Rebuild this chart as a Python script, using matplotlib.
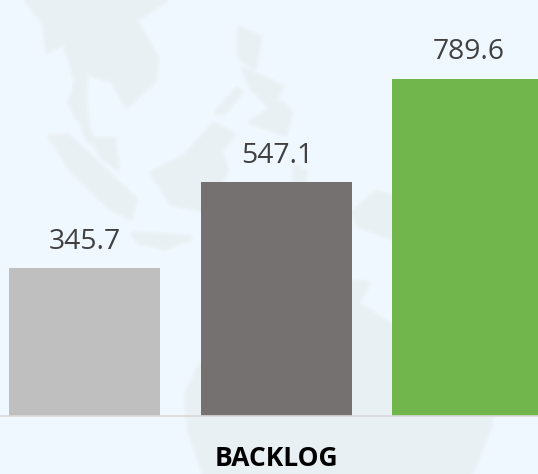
from matplotlib import use as mp_use
mp_use('Agg')
from matplotlib import pyplot as plt
from matplotlib.patches import Polygon

# Data
values = [345.7, 547.1, 789.6]
labels = ['345.7', '547.1', '789.6']
bar_colors = ['#BFBFBF', '#767171', '#70B64C']
title = 'BACKLOG'

bg = '#F0F8FF'
land = '#E8F0F3'

# faint map behind the chart, in image pixels
land_shapes = [
    # Indochina + Malay peninsula
    [(27, 0), (45, 23), (48, 50), (65, 42), (72, 63), (77, 83), (70, 103), (82, 123), (89, 140),
     (113, 140), (117, 167), (103, 157), (88, 132), (84, 100), (86, 72), (113, 80), (127, 105),
     (154, 80), (156, 57), (134, 20), (165, 0)],
    # Sumatra
    [(51, 137), (68, 137), (96, 163), (135, 200), (130, 217), (110, 207), (72, 170)],
    # Borneo
    [(214, 125), (233, 135), (220, 150), (226, 170), (206, 210), (172, 203), (153, 173), (185, 157)],
    # Java
    [(134, 234), (189, 238), (165, 247), (140, 242)],
    # Philippines
    [(240, 30), (259, 37), (254, 67), (240, 57)],
    [(244, 70), (281, 87), (271, 107), (252, 87)],
    [(281, 103), (290, 113), (285, 133), (252, 122), (271, 110)],
    [(237, 90), (218, 112), (224, 112), (240, 92)],
    # Sulawesi
    [(295, 167), (305, 173), (302, 187), (295, 187)],
    # New Guinea / north of Australia
    [(353, 213), (377, 193), (400, 200), (400, 240), (360, 225)],
    # Australia
    [(187, 395), (201, 365), (352, 300), (353, 283), (367, 284), (357, 304), (392, 327),
     (490, 400), (490, 424), (470, 474), (205, 474), (190, 430)],
]

fig = plt.figure(figsize=(5.38, 4.74), dpi=100, facecolor=bg)

bg_ax = fig.add_axes([0, 0, 1, 1])
bg_ax.set_xlim(0, 538)
bg_ax.set_ylim(474, 0)
bg_ax.axis('off')
for shape in land_shapes:
    # a few soft strokes so the edges look blurred like the original
    for lw in (6, 4, 2):
        bg_ax.add_patch(Polygon(shape, closed=True, facecolor='none', edgecolor=land, alpha=0.35,
                                linewidth=lw, joinstyle='round'))
    bg_ax.add_patch(Polygon(shape, closed=True, facecolor=land, edgecolor='none'))

base_px = 416.0
ax = fig.add_axes([0, (474 - base_px) / 474, 1, base_px / 474])
ax.patch.set_alpha(0)
x = list(range(len(values)))
ax.bar(x, values, width=0.788, color=bar_colors, edgecolor='none')
ax.set_xlim(-84.5 / 191.7, (538 - 84.5) / 191.7)
ax.set_ylim(0, base_px / 0.4268)

for i, v in enumerate(values):
    ax.annotate(labels[i], (i, v), xytext=(0.5, 9), textcoords='offset points', ha='center', va='bottom',
                fontsize=20.3, color='#404040', family='Open Sans')

for s in ['top', 'left', 'right']:
    ax.spines[s].set_visible(False)
ax.spines['bottom'].set_color('#D9D9D9')
ax.spines['bottom'].set_linewidth(1.2)
ax.set_yticks([])
ax.set_xticks([1])
ax.set_xticklabels([title], fontsize=19, fontweight='bold', color='black', family='Open Sans')
ax.tick_params(axis='x', length=0, pad=21)

fig.savefig('out.png', dpi=100, facecolor=bg)
